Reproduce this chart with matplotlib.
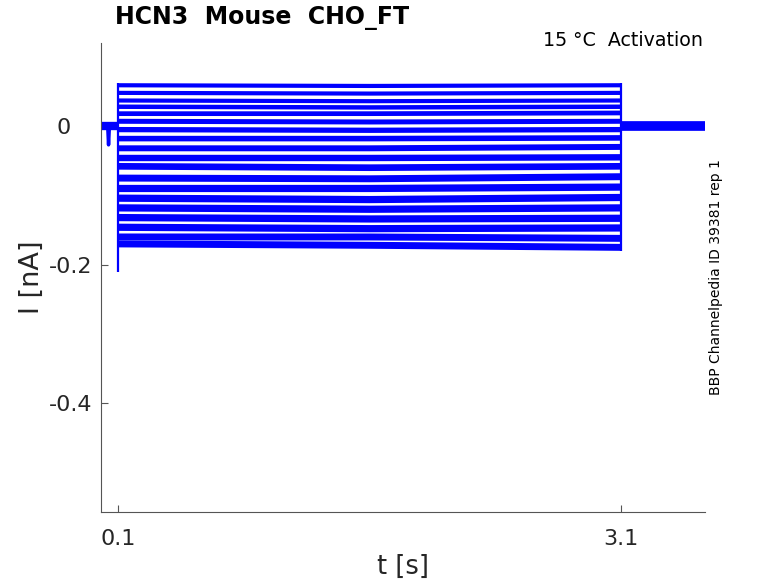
import matplotlib
matplotlib.use("Agg")
import matplotlib.pyplot as plt
from matplotlib.transforms import ScaledTranslation

# read-off times (s) and plateau current of each sweep (nA)
t_read = [0.1, 1.6, 3.1]
sweep_levels = [
    [0.059, 0.058, 0.059],
    [0.048, 0.047, 0.048],
    [0.037, 0.036, 0.037],
    [0.028, 0.027, 0.028],
    [0.018, 0.018, 0.019],
    [0.007, 0.006, 0.007],
    [-0.005, -0.006, -0.005],
    [-0.018, -0.018, -0.017],
    [-0.032, -0.032, -0.030],
    [-0.046, -0.046, -0.045],
    [-0.058, -0.060, -0.058],
    [-0.075, -0.076, -0.073],
    [-0.090, -0.090, -0.088],
    [-0.104, -0.106, -0.103],
    [-0.118, -0.120, -0.118],
    [-0.132, -0.134, -0.133],
    [-0.146, -0.148, -0.147],
    [-0.160, -0.160, -0.162],
    [-0.170, -0.172, -0.175],
]
# apparent noise band of each sweep (pt)
sweep_noise = [3.0, 3.0, 3.0, 3.2, 3.4, 3.6, 3.8, 4.0, 4.3, 4.6,
               4.8, 5.0, 5.2, 5.2, 5.2, 5.2, 5.2, 5.0, 5.0]

t_hold_pre = [0.0, 0.1]
t_hold_post = [3.1, 3.6]
hold_level = 0.0
t_dip = [0.04, 0.045, 0.05]
i_dip = [0.0, -0.027, 0.0]
transient_min = -0.211

blue = "#0000ff"
grey = "#262626"

fig = plt.figure(figsize=(7.78, 5.83), dpi=100)
ax = fig.add_axes([101 / 778, 1 - 512 / 583, 604 / 778, 469 / 583])

for lv, w in zip(sweep_levels, sweep_noise):
    ax.plot(t_read, lv, color=blue, lw=w, solid_capstyle="butt")

tops = [lv[0] for lv in sweep_levels]
ends = [lv[-1] for lv in sweep_levels]
ax.vlines(t_read[0], transient_min, max(tops) + 0.003, color=blue, lw=1.6)
ax.vlines(t_read[-1], min(ends) - 0.005, max(ends) + 0.003, color=blue, lw=1.6)

ax.plot(t_hold_pre, [hold_level] * 2, color=blue, lw=6, solid_capstyle="butt")
ax.plot(t_hold_post, [hold_level] * 2, color=blue, lw=7, solid_capstyle="butt")
ax.plot(t_dip, i_dip, color=blue, lw=2.5)

ax.set_xlim(0, 3.6)
ax.set_ylim(-0.557, 0.12)
ax.set_xticks([0.1, 3.1])
ax.set_xticklabels(["0.1", "3.1"])
ax.set_yticks([-0.4, -0.2, 0])
ax.set_yticklabels(["-0.4", "-0.2", "0"])

for s in ["top", "right"]:
    ax.spines[s].set_visible(False)
for s in ["left", "bottom"]:
    ax.spines[s].set_color("#555555")
    ax.spines[s].set_linewidth(0.8)
ax.tick_params(direction="in", length=5, width=0.8, color="#555555",
               labelsize=16, labelcolor=grey)
ax.tick_params(axis="y", pad=6)
ax.tick_params(axis="x", pad=12)

# the "0" label sits further left in the original
lab0 = ax.get_yticklabels()[-1]
lab0.set_transform(lab0.get_transform() + ScaledTranslation(-0.22, 0, fig.dpi_scale_trans))

ax.set_xlabel("t [s]", fontsize=18.5, color=grey, labelpad=4)
ax.set_ylabel("I [nA]", fontsize=19.5, color=grey, labelpad=3)

fig.text(115 / 778, 1 - 18 / 583, "HCN3  Mouse  CHO_FT", fontsize=17,
         fontweight="bold", ha="left", va="center", color="black")
fig.text(703 / 778, 1 - 41 / 583, "15 °C  Activation", fontsize=13.7,
         ha="right", va="center", color="black")
fig.text(716 / 778, 1 - 277 / 583, "BBP Channelpedia ID 39381 rep 1",
         fontsize=10, rotation=90, ha="center", va="center", color="black")

fig.savefig("out.png", dpi=100)
